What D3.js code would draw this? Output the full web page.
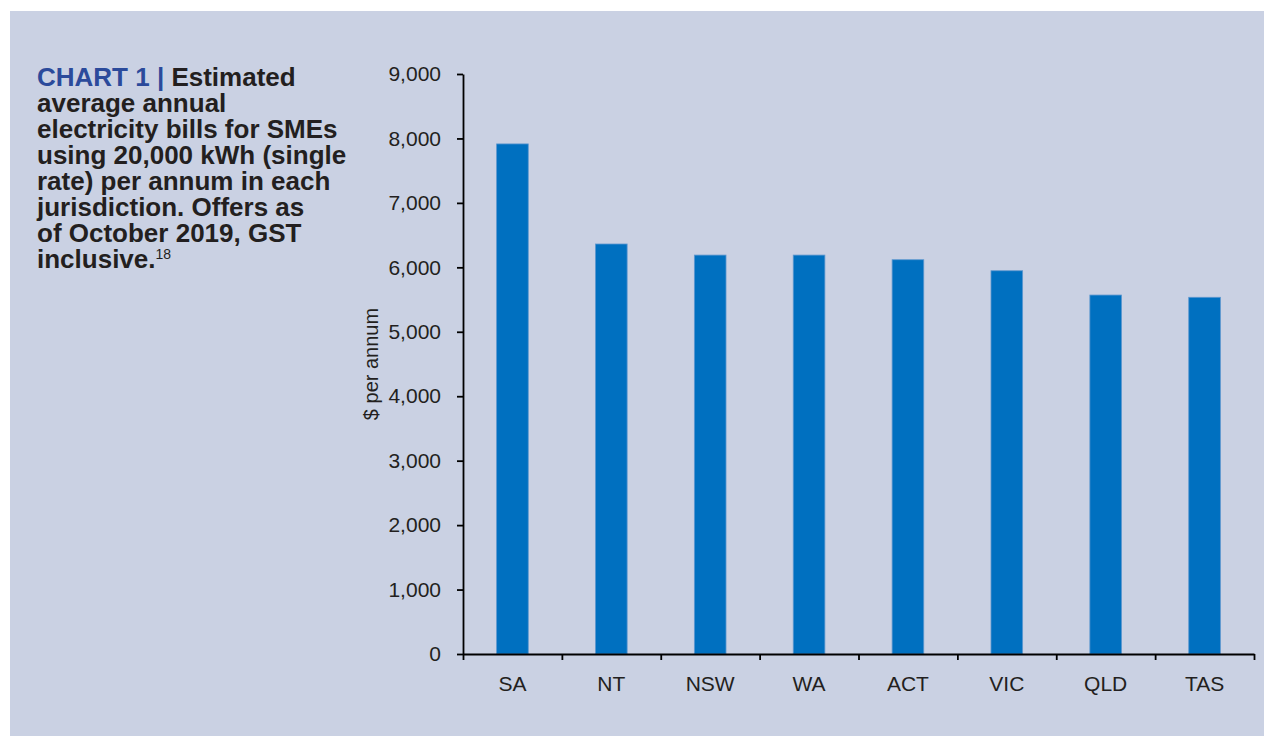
<!DOCTYPE html>
<html>
<head>
<meta charset="utf-8">
<script src="https://cdn.jsdelivr.net/npm/d3@7"></script>
<style>
  body { margin: 0; background: #fff; }
  svg text { font-family: "Liberation Sans", Arial, Helvetica, sans-serif; fill: #231f20; }
</style>
</head>
<body>
<div id="chart"></div>
<script>
const categories = ["SA", "NT", "NSW", "WA", "ACT", "VIC", "QLD", "TAS"];
const billValues = [7915, 6362, 6190, 6190, 6118, 5947, 5570, 5535];
const yTickValues = [0, 1000, 2000, 3000, 4000, 5000, 6000, 7000, 8000, 9000];
const titleLines = [
  "average annual",
  "electricity bills for SMEs",
  "using 20,000 kWh (single",
  "rate) per annum in each",
  "jurisdiction. Offers as",
  "of October 2019, GST"
];

const WIDTH = 1265, HEIGHT = 737;
const margin = { top: 74, right: 11, bottom: 83, left: 463 };

const svg = d3.select("#chart").append("svg")
  .attr("width", WIDTH)
  .attr("height", HEIGHT);

// panel background
svg.append("rect")
  .attr("x", 10).attr("y", 11)
  .attr("width", 1254).attr("height", 725)
  .attr("fill", "#cad1e3");

// title block
const TITLE_Y = 86, LINE_H = 26;
const title = svg.append("text")
  .style("font-size", "26px")
  .style("font-weight", "bold");

const first = title.append("tspan").attr("x", 37).attr("y", TITLE_Y);
first.append("tspan").style("fill", "#2b4a9b").text("CHART 1 | ");
first.append("tspan").text("Estimated");

titleLines.forEach((line, i) => {
  title.append("tspan")
    .attr("x", 37)
    .attr("y", TITLE_Y + (i + 1) * LINE_H)
    .text(line);
});
title.append("tspan")
  .attr("x", 37)
  .attr("y", TITLE_Y + 7 * LINE_H)
  .text("inclusive.");
title.append("tspan")
  .attr("dy", -9)
  .style("font-size", "14px")
  .style("font-weight", "normal")
  .text("18");

// scales
const x0 = margin.left, x1 = WIDTH - margin.right;
const yBottom = HEIGHT - margin.bottom;

const x = d3.scaleBand()
  .domain(categories)
  .range([x0, x1])
  .padding(0);

const xEdges = d3.scaleLinear()
  .domain([0, categories.length])
  .range([x0, x1]);

const y = d3.scaleLinear()
  .domain([0, 9000])
  .range([yBottom, margin.top]);

// bars
const barW = x.bandwidth() * 0.32;
svg.append("g").selectAll("rect")
  .data(billValues)
  .enter().append("rect")
  .attr("x", (d, i) => x(categories[i]) + (x.bandwidth() - barW) / 2)
  .attr("y", (d) => y(d))
  .attr("width", barW)
  .attr("height", (d) => y(0) - y(d))
  .attr("fill", "#0070c0")
  .attr("stroke", "#5d97cf")
  .attr("stroke-width", 0.8);

// y axis
const yAxis = d3.axisLeft(y)
  .tickValues(yTickValues)
  .tickFormat(d3.format(","))
  .tickSize(6)
  .tickSizeOuter(0)
  .tickPadding(16);

const gy = svg.append("g")
  .attr("transform", "translate(" + x0 + ",0)")
  .call(yAxis);
gy.selectAll("text").style("font-size", "21px");
gy.selectAll("path, line").attr("stroke", "#000").attr("stroke-width", 1.8);

// x axis: boundary ticks
const xTickAxis = d3.axisBottom(xEdges)
  .tickValues(d3.range(0, categories.length + 1))
  .tickFormat("")
  .tickSize(6)
  .tickSizeOuter(0);

const gx = svg.append("g")
  .attr("transform", "translate(0," + yBottom + ")")
  .call(xTickAxis);
gx.selectAll("path, line").attr("stroke", "#000").attr("stroke-width", 1.8);

// x axis: category labels
const xLabelAxis = d3.axisBottom(x)
  .tickSize(0)
  .tickPadding(22);

const gxl = svg.append("g")
  .attr("transform", "translate(0," + yBottom + ")")
  .call(xLabelAxis);
gxl.select(".domain").remove();
gxl.selectAll("text").style("font-size", "21px");

// y axis label
svg.append("text")
  .attr("transform", "translate(378," + ((yBottom + margin.top) / 2) + ") rotate(-90)")
  .attr("text-anchor", "middle")
  .style("font-size", "20px")
  .text("$ per annum");
</script>
</body>
</html>
